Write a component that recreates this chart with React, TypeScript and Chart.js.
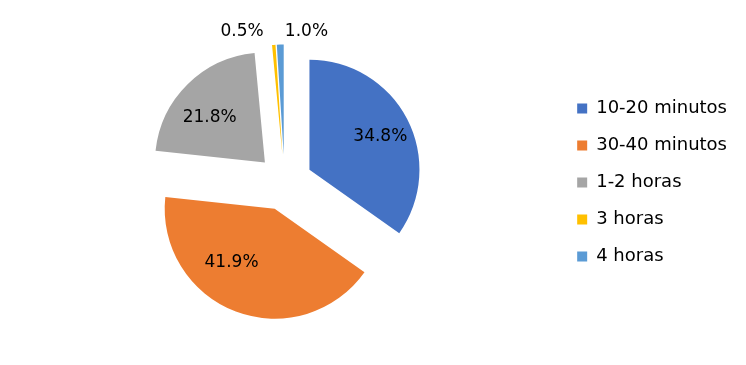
import React, { useEffect, useRef } from "react";
import { Chart, registerables } from "chart.js";

Chart.register(...registerables);

const categories = ["10-20 minutos", "30-40 minutos", "1-2 horas", "3 horas", "4 horas"];
const values = [34.8, 41.9, 21.8, 0.5, 1.0];
const colors = ["#4472C4", "#ED7D31", "#A5A5A5", "#FFC000", "#5B9BD5"];
const EXPLODE = 28;

// label placement tweaks (style): angle shift in degrees and radius fraction
const labelAngleShift = [2.5, 17.8, -6, 0, 0];
const labelRadiusFrac = [0.71, 0.63, 0.65, 0, 0];

const FONT = "DejaVu Sans";

const explodePlugin = {
  id: "explode",
  beforeDatasetDraw(chart: any, args: any) {
    const meta = args.meta;
    const ctx = chart.ctx;
    meta.data.forEach((arc: any) => {
      const p = arc.getProps(["startAngle", "endAngle"], true);
      const mid = (p.startAngle + p.endAngle) / 2;
      ctx.save();
      ctx.translate(Math.cos(mid) * EXPLODE, Math.sin(mid) * EXPLODE);
      arc.draw(ctx, chart.chartArea);
      ctx.restore();
    });
    return false;
  },
};

const labelPlugin = {
  id: "sliceLabels",
  afterDatasetsDraw(chart: any) {
    const meta = chart.getDatasetMeta(0);
    const ctx = chart.ctx;
    ctx.save();
    ctx.font = `17px "${FONT}"`;
    ctx.fillStyle = "#000";
    ctx.textBaseline = "middle";
    let smallIdx = 0;
    meta.data.forEach((arc: any, i: number) => {
      const p = arc.getProps(["x", "y", "startAngle", "endAngle", "outerRadius"], true);
      const mid = (p.startAngle + p.endAngle) / 2;
      const v = values[i];
      const txt = v.toFixed(1) + "%";
      const ax = p.x + Math.cos(mid) * EXPLODE;
      const ay = p.y + Math.sin(mid) * EXPLODE;
      if (v >= 5) {
        const a = mid + (labelAngleShift[i] * Math.PI) / 180;
        const r = p.outerRadius * labelRadiusFrac[i];
        ctx.textAlign = "center";
        ctx.fillText(txt, ax + Math.cos(a) * r, ay + Math.sin(a) * r);
      } else {
        const r = EXPLODE + p.outerRadius + 13;
        const lx = p.x + Math.cos(mid) * r;
        const ly = p.y + Math.sin(mid) * r;
        if (smallIdx % 2 === 0) {
          ctx.textAlign = "right";
          ctx.fillText(txt, lx - 9, ly);
        } else {
          ctx.textAlign = "left";
          ctx.fillText(txt, lx + 5, ly);
        }
        smallIdx++;
      }
    });
    ctx.restore();
  },
};

export default function App() {
  const ref = useRef<HTMLCanvasElement>(null);
  useEffect(() => {
    document.body.style.margin = "0";
    const chart = new Chart(ref.current!, {
      type: "pie",
      data: {
        labels: categories,
        datasets: [
          {
            data: values,
            backgroundColor: colors,
            borderWidth: 0,
          },
        ],
      },
      options: {
        responsive: false,
        animation: false,
        radius: 110,
        layout: { padding: { left: 11, right: 9, top: 0, bottom: 0 } },
        plugins: {
          tooltip: { enabled: false },
          legend: {
            position: "right",
            labels: {
              boxWidth: 10,
              boxHeight: 10,
              padding: 19,
              color: "#000",
              font: { family: FONT, size: 18 },
            },
          },
        },
      },
      plugins: [explodePlugin, labelPlugin],
    } as any);
    return () => chart.destroy();
  }, []);
  return (
    <div style={{ width: 746, height: 365, background: "#fff" }}>
      <canvas ref={ref} width={746} height={365} />
    </div>
  );
}
